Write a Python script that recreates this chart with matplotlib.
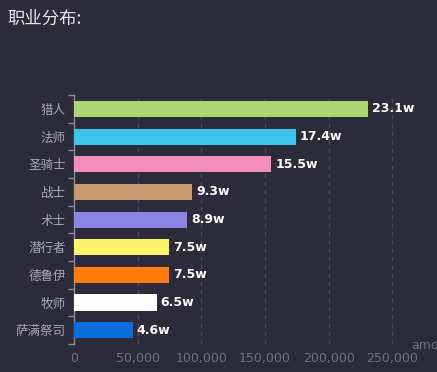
import numpy as np
from matplotlib import pyplot as plt
from matplotlib.ticker import FuncFormatter

# data
classes = ["猎人", "法师", "圣骑士", "战士", "术士", "潜行者", "德鲁伊", "牧师", "萨满祭司"]
amounts = [231000, 174000, 155000, 93000, 89000, 75000, 75000, 65000, 46000]
colors = ["#a9d672", "#3ec4ec", "#f28cba", "#c69b6d", "#8b85e6",
          "#fff46a", "#ff7c0c", "#ffffff", "#0a6fdc"]
xticks = [0, 50000, 100000, 150000, 200000, 250000]

plt.rcParams['font.family'] = ['Noto Sans CJK SC', 'DejaVu Sans']

bg = "#2c2b3b"
fig = plt.figure(figsize=(4.37, 3.72), dpi=100, facecolor=bg)
ax = fig.add_axes([0.1693, 0.0753, 0.816, 0.669], facecolor=bg)

ypos = np.arange(len(classes))
ax.barh(ypos, amounts, height=0.58, color=colors, zorder=3)
for y, v in zip(ypos, amounts):
    ax.text(v + 3000, y, "{:.1f}w".format(v / 10000.0), color="white",
            fontsize=9, fontweight="bold", va="center", ha="left",
            family="DejaVu Sans", zorder=4)

ax.set_ylim(len(classes) - 0.5, -0.5)
ax.set_xlim(0, 280000)
ax.set_yticks(ypos)
ax.set_yticklabels(classes, color="#a8a8b2", fontsize=9)
ax.set_yticks(np.arange(-0.5, len(classes), 1.0), minor=True)
ax.tick_params(axis="y", which="major", length=0, pad=6)
ax.tick_params(axis="y", which="minor", length=4, color="#8a8a95", width=1)

ax.set_xticks(xticks)
ax.xaxis.set_major_formatter(FuncFormatter(lambda v, p: "{:,}".format(int(v))))
ax.tick_params(axis="x", length=0, pad=6, labelcolor="#6f6f80", labelsize=9)
for lab in ax.get_xticklabels():
    lab.set_family("DejaVu Sans")

for gx in xticks[1:]:
    ax.axvline(gx, color="#4a4a5e", lw=1, ls=(0, (3, 3)), zorder=1)

for s in ["top", "right", "bottom"]:
    ax.spines[s].set_visible(False)
ax.spines["left"].set_color("#8a8a95")
ax.spines["left"].set_linewidth(1)

fig.text(0.016, 0.95, "职业分布:", color="#e8e8ec", fontsize=12.5, va="center", ha="left")
fig.text(0.94, 0.072, "amo", color="#6f6f80", fontsize=9, va="center", ha="left",
         family="DejaVu Sans")

fig.savefig("out.png", dpi=100, facecolor=bg)
